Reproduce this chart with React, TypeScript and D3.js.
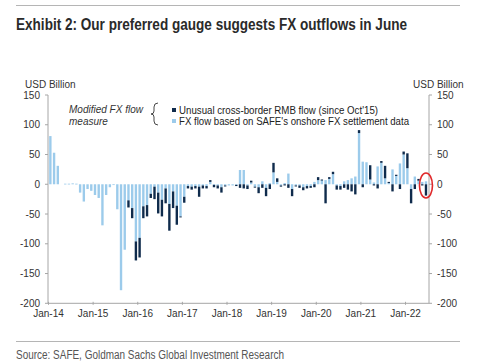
import React from "react";
import * as d3 from "d3";

// Monthly categories Jan-14 .. Jun-22
const months: Date[] = d3.timeMonth.range(new Date(2014, 0, 1), new Date(2022, 6, 1));

// FX flow based on SAFE's onshore FX settlement data (USD bn)
const safeFlow = [
  81, 53, 31, 0, 1, 1, 1.5, 1, -14, -29, -8, -11,
  -18, -23, -69, -18, -5, -1, -42, -178, -110, -27, -40, -96,
  -90, -37, -35, -16, -4, -14, -26, -7, -33, -12, -36, -54,
  -21, -3, -4, -3, -4, -2, -3, 4, -1, -2, -5, -2,
  -2, -2, -1, 24, 24, -2, 3, -4, -5, 5, -6, 2,
  20, 4, -2, 2, 18, -8, -2, -2, -5, -3, -3, 4,
  7, 7, 7, 9, 17, -2, -3, 5, 7, 10, 13, 86,
  38, 37, 8, 3, 30, 36, 10, 2, 25, 14, 35, 50,
  27, -8, 13, 6, 4, 5,
];

// Unusual cross-border RMB flow (since Oct'15), stacked on top (USD bn)
const unusualFlow = [
  0, 0, 0, 0, 0, 0, 0, 0, 0, 0, 0, 0,
  0, 0, 0, 0, 0, 0, 0, 0, 0, -12, -17, -32,
  -33, -20, -19, -7, -21, -35, -28, -25, -45, -28, -32, -1,
  -10, -4, -5, -4, -17, -5, -4, 3, -4, -5, -9, -1,
  0, 0, -2, -6, -7, -6, 3, -1, -10, -6, -14, -8,
  16, 6, -2, -2, -6, -12, -1, -4, -5, -4, -3, -5,
  5, 1, -32, 3, 4, -7, -6, -6, -9, -12, -17, 5,
  -5, 0, 24, -2, -7, 3, 21, 2, -12, 2, -8, 5,
  25, -24, -8, 3, -2, -19,
];

const yTicks = [150, 100, 50, 0, -50, -100, -150, -200];
const xTickLabels = ["Jan-14", "Jan-15", "Jan-16", "Jan-17", "Jan-18", "Jan-19", "Jan-20", "Jan-21", "Jan-22"];
const seriesNames = ["Unusual cross-border RMB flow (since Oct'15)", "FX flow based on SAFE's onshore FX settlement data"];

const LIGHT = "#9ccbeb";
const DARK = "#0f2b4c";
const AXIS = "#a6a6a6";
const FONT = "'Liberation Sans', Arial, sans-serif";
const NARROW = "'Liberation Sans Narrow', 'Liberation Sans', Arial, sans-serif";

export default function App() {
  const W = 500, H = 363;
  const left = 48, right = 429, top = 95, bottom = 303.3;

  const x = d3.scaleBand<number>().domain(months.map((_, i) => i)).range([48.5, 426.5]).paddingInner(0.36).paddingOuter(0);
  const y = d3.scaleLinear().domain([-200, 150]).range([bottom, top]);
  const bw = x.bandwidth();
  const step = x.step();

  const bars: JSX.Element[] = [];
  months.forEach((_, i) => {
    const L = safeFlow[i];
    const D = unusualFlow[i];
    const bx = (x(i) as number) + step * 0.18;
    if (L !== 0) {
      bars.push(
        <rect key={"l" + i} x={bx} width={bw} y={y(Math.max(0, L))} height={Math.max(0.8, Math.abs(y(L) - y(0)))} fill={LIGHT} />
      );
    }
    if (D !== 0) {
      const base = Math.sign(D) === Math.sign(L) ? L : 0;
      const end = base + D;
      bars.push(
        <rect key={"d" + i} x={bx} width={bw} y={y(Math.max(base, end))} height={Math.max(1, Math.abs(y(end) - y(base)))} fill={DARK} />
      );
    }
  });

  const last = months.length - 1;
  const cx = (x(last) as number) + step * 0.18 + bw / 2;
  const cy = y(-2);

  return (
    <svg width={W} height={H} style={{ position: "absolute", left: 0, top: 0, background: "#fff" }} xmlns="http://www.w3.org/2000/svg">
      <rect width={W} height={H} fill="#fff" />
      {/* top rule */}
      <line x1={16} x2={460} y1={5.5} y2={5.5} stroke="#b5b5b5" strokeWidth={1.2} />
      <text x={16} y={30} fontFamily={NARROW} fontWeight="bold" fontSize={16} fill="#2a2a2a" textLength={391} lengthAdjust="spacingAndGlyphs">
        Exhibit 2: Our preferred gauge suggests FX outflows in June
      </text>

      {/* axis titles */}
      <text x={25} y={88} fontFamily={FONT} fontSize={10} fill="#333">USD Billion</text>
      <text x={413} y={88} fontFamily={FONT} fontSize={10} fill="#333">USD Billion</text>

      {/* axes */}
      <line x1={left} x2={left} y1={top} y2={bottom} stroke={AXIS} strokeWidth={1} />
      <line x1={right} x2={right} y1={top} y2={bottom} stroke={AXIS} strokeWidth={1} />
      <line x1={left} x2={right} y1={bottom} y2={bottom} stroke={AXIS} strokeWidth={1} />
      {yTicks.map((t) => (
        <g key={"yt" + t}>
          <line x1={left - 3} x2={left} y1={y(t)} y2={y(t)} stroke={AXIS} />
          <line x1={right} x2={right + 3} y1={y(t)} y2={y(t)} stroke={AXIS} />
          <text x={40} y={y(t) + 3.5} textAnchor="end" fontFamily={FONT} fontSize={10} fill="#333">{t}</text>
          <text x={437} y={y(t) + 3.5} textAnchor="start" fontFamily={FONT} fontSize={10} fill="#333">{t}</text>
        </g>
      ))}
      {xTickLabels.map((lab, j) => {
        const tx = x(j * 12) as number;
        return (
          <g key={"xt" + lab}>
            <line x1={tx} x2={tx} y1={bottom - 1.5} y2={bottom + 1.5} stroke={AXIS} />
            <text x={tx} y={317} textAnchor="middle" fontFamily={FONT} fontSize={10} fill="#333">{lab}</text>
          </g>
        );
      })}

      {/* bars */}
      {bars}

      {/* legend */}
      <text fontFamily={FONT} fontStyle="italic" fontSize={10} fill="#333">
        <tspan x={69} y={113}>Modified FX flow</tspan>
        <tspan x={69} y={125}>measure</tspan>
      </text>
      <path d="M158,103 Q154,103 154,107 L154,111 Q154,114 151,114 Q154,114 154,117 L154,121 Q154,125 158,125" fill="none" stroke="#333" strokeWidth={0.9} />
      <rect x={172} y={108} width={4} height={4} fill={DARK} />
      <text x={179} y={114} fontFamily={FONT} fontSize={10} fill="#222" textLength={199} lengthAdjust="spacingAndGlyphs">{seriesNames[0]}</text>
      <rect x={172} y={119} width={4} height={4} fill={LIGHT} />
      <text x={179} y={125} fontFamily={FONT} fontSize={10} fill="#222" textLength={230} lengthAdjust="spacingAndGlyphs">{seriesNames[1]}</text>

      {/* highlight circle */}
      <ellipse cx={cx} cy={cy} rx={6.5} ry={12.5} fill="none" stroke="#e0292b" strokeWidth={1.6} />

      {/* bottom rule + source */}
      <line x1={16} x2={460} y1={341.5} y2={341.5} stroke="#b5b5b5" strokeWidth={1.2} />
      <text x={16} y={359} fontFamily={NARROW} fontSize={12.5} fill="#555" textLength={268} lengthAdjust="spacingAndGlyphs">
        Source: SAFE, Goldman Sachs Global Investment Research
      </text>
    </svg>
  );
}
